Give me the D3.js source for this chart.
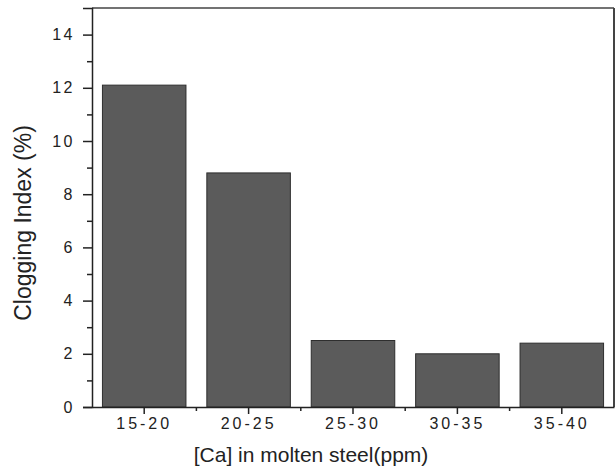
<!DOCTYPE html>
<html>
<head>
<meta charset="UTF-8" />
<script src="https://d3js.org/d3.v7.min.js"></script>
<style>
  body { margin: 0; background: #fff; }
  text { font-family: "Liberation Sans", Arial, sans-serif; fill: #222; }
  .tick-label { font-size: 16px; letter-spacing: 2.5px; }
</style>
</head>
<body>
<svg width="616" height="468"></svg>
<script>
  // data
  var categories = ["15-20", "20-25", "25-30", "30-35", "35-40"];
  var clogging = [12.1, 8.8, 2.5, 2.0, 2.4];
  var yMajor = [0, 2, 4, 6, 8, 10, 12, 14];
  var yMinor = [1, 3, 5, 7, 9, 11, 13];

  var svg = d3.select("svg");
  var plotLeft = 92, plotRight = 614, plotTop = 8, plotBottom = 407;

  var x = d3.scaleBand().domain(categories).range([plotLeft, plotRight])
    .paddingInner(0.2).paddingOuter(0.1);
  var xStep = d3.scaleBand().domain(categories).range([plotLeft, plotRight]);
  var y = d3.scaleLinear().domain([0, 15]).range([plotBottom, plotTop]);

  // frame top and right
  svg.append("line").attr("x1", plotLeft).attr("x2", plotRight)
    .attr("y1", plotTop).attr("y2", plotTop)
    .attr("stroke", "#444").attr("stroke-width", 1.5);
  svg.append("line").attr("x1", plotRight).attr("x2", plotRight)
    .attr("y1", plotTop).attr("y2", plotBottom)
    .attr("stroke", "#444").attr("stroke-width", 2);

  // bars
  svg.append("g").selectAll("rect")
    .data(clogging)
    .enter()
    .append("rect")
    .attr("x", (d, i) => x(categories[i]))
    .attr("width", x.bandwidth())
    .attr("y", (d) => y(d))
    .attr("height", (d) => y(0) - y(d))
    .attr("fill", "#5b5b5b")
    .attr("stroke", "#2e2e2e")
    .attr("stroke-width", 1);

  // y axis
  var yAxis = svg.append("g").attr("transform", "translate(" + plotLeft + ",0)")
    .call(d3.axisLeft(y).tickValues(yMajor).tickSize(9).tickPadding(8).tickFormat(d3.format("d")));
  yAxis.select(".domain").attr("stroke", "#222").attr("stroke-width", 1.5);
  yAxis.selectAll(".tick line").attr("stroke", "#222").attr("stroke-width", 1.5);
  yAxis.selectAll(".tick text").attr("class", "tick-label").attr("fill", "#222");
  var yMinorAxis = svg.append("g").attr("transform", "translate(" + plotLeft + ",0)")
    .call(d3.axisLeft(y).tickValues(yMinor).tickSize(5).tickFormat(""));
  yMinorAxis.select(".domain").remove();
  yMinorAxis.selectAll(".tick line").attr("stroke", "#222").attr("stroke-width", 1.5);

  // x axis
  var xAxis = svg.append("g").attr("transform", "translate(0," + plotBottom + ")")
    .call(d3.axisBottom(x).tickSize(7).tickPadding(4).tickSizeOuter(0));
  xAxis.select(".domain").attr("stroke", "#222").attr("stroke-width", 1.5);
  xAxis.selectAll(".tick line").attr("stroke", "#222").attr("stroke-width", 1.5);
  xAxis.selectAll(".tick text").attr("class", "tick-label").attr("fill", "#222")
    .style("letter-spacing", "3px");

  // minor x ticks at band boundaries
  svg.append("g").selectAll("line")
    .data(categories.slice(1))
    .enter()
    .append("line")
    .attr("x1", (d) => xStep(d)).attr("x2", (d) => xStep(d))
    .attr("y1", plotBottom).attr("y2", plotBottom + 4)
    .attr("stroke", "#222").attr("stroke-width", 1.5);

  // axis titles
  svg.append("text")
    .attr("transform", "translate(31,223) rotate(-90)")
    .attr("text-anchor", "middle")
    .style("font-size", "23px")
    .text("Clogging Index (%)");

  svg.append("text")
    .attr("x", 311).attr("y", 462)
    .attr("text-anchor", "middle")
    .style("font-size", "21px")
    .text("[Ca] in molten steel(ppm)");
</script>
</body>
</html>
